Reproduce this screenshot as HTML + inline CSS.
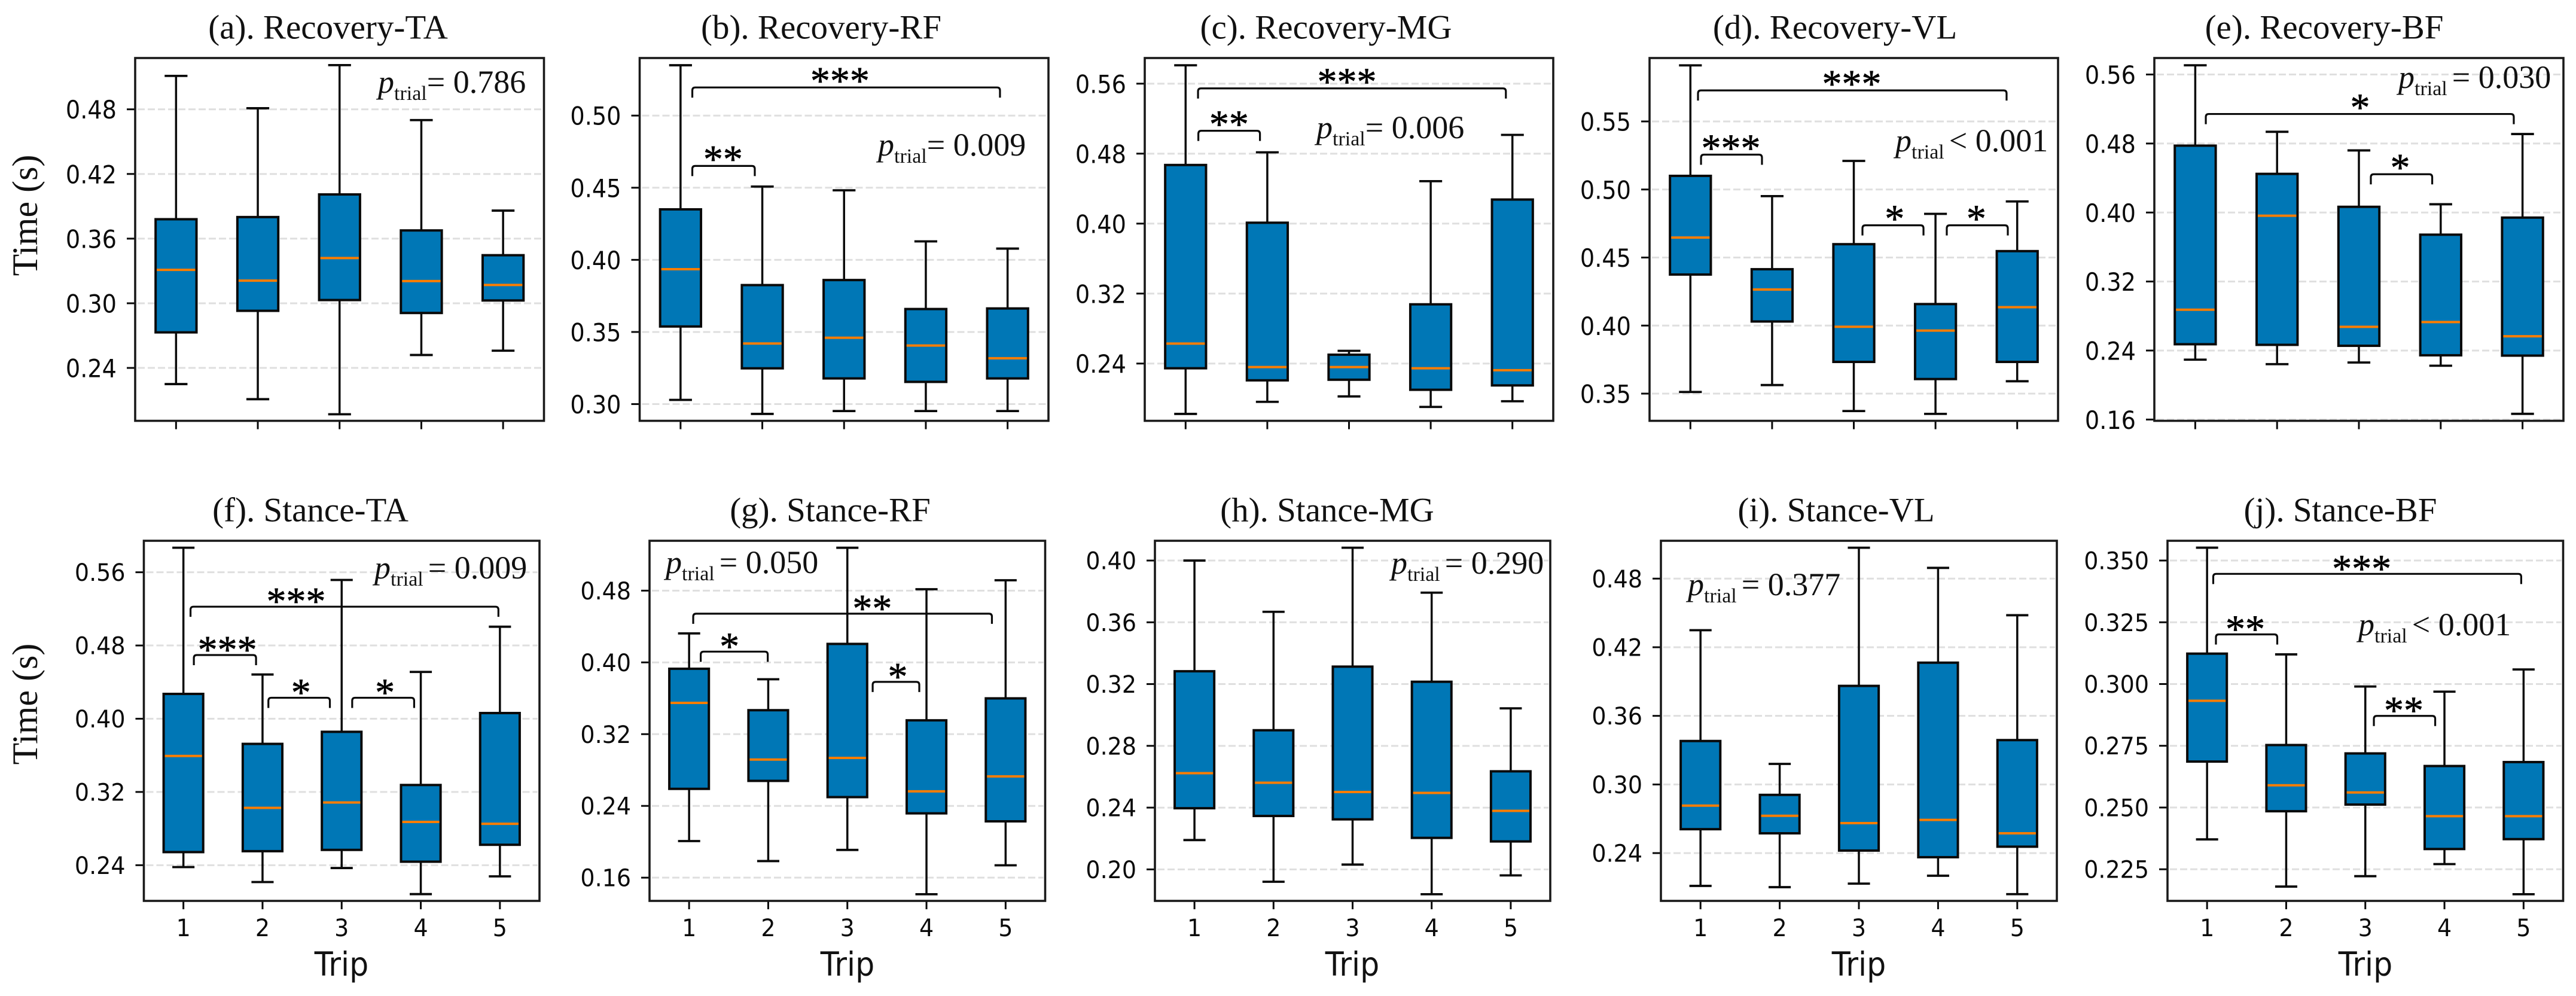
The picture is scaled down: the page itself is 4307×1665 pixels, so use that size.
<!DOCTYPE html>
<html lang="en">
<head>
<meta charset="utf-8">
<title>Recovery and stance time box plots</title>
<style>
html,body{margin:0;padding:0;background:#fff;}
svg{display:block;}
.title{font-family:"Liberation Serif",serif;font-size:57px;text-anchor:middle;fill:#111;}
.ylab{font-family:"Liberation Serif",serif;font-size:60px;text-anchor:middle;fill:#111;}
.xlab{font-family:"DejaVu Sans",sans-serif;font-size:55px;text-anchor:middle;fill:#111;}
.pval{font-family:"Liberation Serif",serif;font-size:54px;fill:#111;}
.sub{font-size:34px;}
</style>
</head>
<body>
<svg id="fig" xmlns="http://www.w3.org/2000/svg" width="4307" height="1665" viewBox="0 0 4307 1665">
<rect width="4307" height="1665" fill="#fff"/>

<g><g id="marks-a"></g>
<text class="title" x="548.5" y="64.6">(a). Recovery-TA</text>
<text class="ylab" transform="translate(62,360) rotate(-90)">Time (s)</text>
<text class="pval" x="632" y="155"><tspan font-style="italic">p</tspan><tspan class="sub" dy="12">trial</tspan><tspan dy="-12">= 0.786</tspan></text></g>

<g><g id="marks-b"></g>
<text class="title" x="1373" y="64.6">(b). Recovery-RF</text>
<text class="pval" x="1468" y="260"><tspan font-style="italic">p</tspan><tspan class="sub" dy="12">trial</tspan><tspan dy="-12">= 0.009</tspan></text></g>

<g><g id="marks-c"></g>
<text class="title" x="2217" y="64.6">(c). Recovery-MG</text>
<text class="pval" x="2201" y="231"><tspan font-style="italic">p</tspan><tspan class="sub" dy="12">trial</tspan><tspan dy="-12">= 0.006</tspan></text></g>

<g><g id="marks-d"></g>
<text class="title" x="3068" y="64.6">(d). Recovery-VL</text>
<text class="pval" x="3169" y="253"><tspan font-style="italic">p</tspan><tspan class="sub" dy="12">trial</tspan><tspan dx="8" dy="-12">&lt; 0.001</tspan></text></g>

<g><g id="marks-e"></g>
<text class="title" x="3886" y="64.6">(e). Recovery-BF</text>
<text class="pval" x="4010" y="147"><tspan font-style="italic">p</tspan><tspan class="sub" dy="12">trial</tspan><tspan dx="8" dy="-12">= 0.030</tspan></text></g>

<g><g id="marks-f"></g>
<text class="title" x="519" y="871.5">(f). Stance-TA</text>
<text class="ylab" transform="translate(62,1177) rotate(-90)">Time (s)</text>
<text class="xlab" transform="translate(571,1631) scale(.92,1)">Trip</text>
<text class="pval" x="626" y="967"><tspan font-style="italic">p</tspan><tspan class="sub" dy="12">trial</tspan><tspan dx="8" dy="-12">= 0.009</tspan></text></g>

<g><g id="marks-g"></g>
<text class="title" x="1388" y="871.5">(g). Stance-RF</text>
<text class="xlab" transform="translate(1417,1631) scale(.92,1)">Trip</text>
<text class="pval" x="1113" y="958"><tspan font-style="italic">p</tspan><tspan class="sub" dy="12">trial</tspan><tspan dx="8" dy="-12">= 0.050</tspan></text></g>

<g><g id="marks-h"></g>
<text class="title" x="2219" y="871.5">(h). Stance-MG</text>
<text class="xlab" transform="translate(2261,1631) scale(.92,1)">Trip</text>
<text class="pval" x="2326" y="959"><tspan font-style="italic">p</tspan><tspan class="sub" dy="12">trial</tspan><tspan dx="8" dy="-12">= 0.290</tspan></text></g>

<g><g id="marks-i"></g>
<text class="title" x="3070" y="871.5">(i). Stance-VL</text>
<text class="xlab" transform="translate(3108,1631) scale(.92,1)">Trip</text>
<text class="pval" x="2822" y="995"><tspan font-style="italic">p</tspan><tspan class="sub" dy="12">trial</tspan><tspan dx="8" dy="-12">= 0.377</tspan></text></g>

<g><g id="marks-j"></g>
<text class="title" x="3913" y="871.5">(j). Stance-BF</text>
<text class="xlab" transform="translate(3955,1631) scale(.92,1)">Trip</text>
<text class="pval" x="3943" y="1062"><tspan font-style="italic">p</tspan><tspan class="sub" dy="12">trial</tspan><tspan dx="8" dy="-12">&lt; 0.001</tspan></text></g>
</svg>

<script>
const tripLabels = ['1','2','3','4','5'];

// Panel a: Recovery-TA
const aHigh = [0.511,0.481,0.521,0.470,0.386];
const aQ3   = [0.378,0.380,0.401,0.3676,0.3446];
const aMed  = [0.331,0.321,0.342,0.3206,0.317];
const aQ1   = [0.273,0.293,0.303,0.291,0.3026];
const aLow  = [0.225,0.211,0.197,0.252,0.256];
const aTicks = ['0.24','0.30','0.36','0.42','0.48'];
const aRange = [0.1909,0.5276];
const aBrackets = [];

// Panel b: Recovery-RF
const bHigh = [0.5349,0.4508,0.4482,0.4128,0.4078];
const bQ3   = [0.435,0.3825,0.386,0.3659,0.3663];
const bMed  = [0.3935,0.342,0.346,0.3406,0.3318];
const bQ1   = [0.3538,0.3248,0.3178,0.3154,0.3178];
const bLow  = [0.3029,0.2932,0.2952,0.2952,0.2952];
const bTicks = ['0.30','0.35','0.40','0.45','0.50'];
const bRange = [0.2884,0.5399];
const bBrackets = [[1.144,4.907,0.5195,2.95,'***'],[1.144,1.908,0.4651,1.52,'**']];

// Panel c: Recovery-MG
const cHigh = [0.581,0.4815,0.2545,0.4485,0.5014];
const cQ3   = [0.467,0.401,0.2501,0.3077,0.4275];
const cMed  = [0.2628,0.236,0.236,0.2346,0.2324];
const cQ1   = [0.2346,0.2208,0.2215,0.21,0.215];
const cLow  = [0.1824,0.1962,0.2024,0.1904,0.1969];
const cTicks = ['0.24','0.32','0.40','0.48','0.56'];
const cRange = [0.1745,0.5893];
const cBrackets = [[1.152,4.92,0.5546,2.974,'***'],[1.156,1.91,0.5061,1.531,'**']];

// Panel d: Recovery-VL
const dHigh = [0.5912,0.4951,0.521,0.4821,0.4912];
const dQ3   = [0.51,0.4414,0.4598,0.4158,0.4547];
const dMed  = [0.4647,0.4265,0.3991,0.3963,0.4135];
const dQ1   = [0.4375,0.403,0.3733,0.3607,0.3733];
const dLow  = [0.3512,0.3563,0.3372,0.3351,0.3591];
const dTicks = ['0.35','0.40','0.45','0.50','0.55'];
const dRange = [0.33,0.5966];
const dBrackets = [[1.093,4.87,0.5728,2.974,'***'],[1.13,1.876,0.5256,1.496,'***'],[3.106,3.853,0.4737,3.5,'*'],[4.138,4.885,0.4737,4.5,'*']];

// Panel e: Recovery-BF
const eHigh = [0.5707,0.4936,0.472,0.4096,0.491];
const eQ3   = [0.4775,0.4448,0.4066,0.3743,0.3941];
const eMed  = [0.2873,0.3963,0.2675,0.273,0.2565];
const eQ1   = [0.2473,0.2466,0.2455,0.2345,0.2341];
const eLow  = [0.2294,0.2242,0.2261,0.2224,0.1666];
const eTicks = ['0.16','0.24','0.32','0.40','0.48','0.56'];
const eRange = [0.1585,0.5791];
const eBrackets = [[1.129,4.893,0.5142,3.015,'*'],[3.146,3.896,0.4444,3.504,'*']];

// Panel f: Stance-TA
const fHigh = [0.5868,0.4483,0.5516,0.4511,0.5005];
const fQ3   = [0.4271,0.3725,0.3857,0.3276,0.4062];
const fMed  = [0.3593,0.3026,0.3085,0.2873,0.2852];
const fQ1   = [0.2543,0.2553,0.2567,0.2438,0.2623];
const fLow  = [0.2379,0.2216,0.2369,0.2084,0.2278];
const fTicks = ['0.24','0.32','0.40','0.48','0.56'];
const fRange = [0.2010,0.5944];
const fBrackets = [[1.09,4.981,0.5224,2.424,'***'],[1.132,1.918,0.4696,1.555,'***'],[2.074,2.851,0.4229,2.486,'*'],[3.133,3.916,0.4229,3.547,'*']];

// Panel g: Stance-RF
const gHigh = [0.4323,0.3812,0.5278,0.4816,0.4916];
const gQ3   = [0.3929,0.3467,0.4206,0.3354,0.3599];
const gMed  = [0.3549,0.2917,0.2935,0.2562,0.2729];
const gQ1   = [0.259,0.2679,0.2498,0.2317,0.2228];
const gLow  = [0.2008,0.1785,0.1909,0.1415,0.1738];
const gTicks = ['0.16','0.24','0.32','0.40','0.48'];
const gRange = [0.1341,0.5356];
const gBrackets = [[1.052,4.827,0.4543,3.315,'**'],[1.147,1.994,0.412,1.51,'*'],[3.32,3.909,0.3783,3.637,'*']];

// Panel h: Stance-MG
const hHigh = [0.40,0.3668,0.4083,0.3792,0.3043];
const hQ3   = [0.3283,0.2901,0.3313,0.3215,0.2635];
const hMed  = [0.2623,0.2561,0.2501,0.2495,0.2379];
const hQ1   = [0.2396,0.2346,0.2324,0.2204,0.2181];
const hLow  = [0.219,0.192,0.2031,0.1839,0.1961];
const hTicks = ['0.20','0.24','0.28','0.32','0.36','0.40'];
const hRange = [0.1796,0.4128];
const hBrackets = [];

// Panel i: Stance-VL
const iHigh = [0.4349,0.318,0.507,0.4894,0.448];
const iQ3   = [0.338,0.2909,0.3862,0.4065,0.3388];
const iMed  = [0.2815,0.2726,0.2662,0.269,0.2573];
const iQ1   = [0.2609,0.2573,0.2422,0.2364,0.2456];
const iLow  = [0.2113,0.2102,0.2133,0.2202,0.2041];
const iTicks = ['0.24','0.30','0.36','0.42','0.48'];
const iRange = [0.1982,0.5131];
const iBrackets = [];

// Panel j: Stance-BF
const jHigh = [0.3552,0.312,0.299,0.2969,0.3059];
const jQ3   = [0.3123,0.2753,0.2719,0.2668,0.2684];
const jMed  = [0.2932,0.259,0.2561,0.2465,0.2465];
const jQ1   = [0.2686,0.2485,0.2512,0.2332,0.2372];
const jLow  = [0.2371,0.218,0.2222,0.2271,0.2149];
const jTicks = ['0.225','0.250','0.275','0.300','0.325','0.350'];
const jRange = [0.2122,0.358];
const jBrackets = [[1.078,4.97,0.3446,2.954,'***'],[1.112,1.887,0.3201,1.483,'**'],[3.108,3.883,0.2871,3.486,'**']];

const SVGNS = 'http://www.w3.org/2000/svg';
const INK = '#0a0a0a';

function mk(tag, attrs, parent) {
  const el = document.createElementNS(SVGNS, tag);
  for (const k in attrs) el.setAttribute(k, attrs[k]);
  parent.appendChild(el);
  return el;
}

function drawPanel(p) {
  const root = document.getElementById('marks-' + p.id);
  const [L, T, R, B] = p.frame;
  const unit = (R - L) / 5;
  const xScale = t => L + (t - 0.5) * unit;
  const yScale = v => B - (v - p.range[0]) / (p.range[1] - p.range[0]) * (B - T);
  const tf = p.lower ? 40 : 42;
  const tsx = p.lower ? 0.95 : 0.91;
  const tdy = p.lower ? 14.5 : 15.5;

  // horizontal grid and y ticks
  p.ticks.forEach(label => {
    const y = yScale(parseFloat(label));
    const grid = mk('line', {x1: L + 4, x2: R - 3, y1: y, y2: y, stroke: '#dfdfdf', 'stroke-width': 3, 'stroke-dasharray': '12 5'}, root);
    
    
    const tick = mk('line', {x1: L - 14, x2: L, y1: y, y2: y, stroke: INK, 'stroke-width': 3}, root);
    
    
    const txt = mk('text', {transform: `translate(${L - 31},${y + tdy}) scale(${tsx},1)`, 'text-anchor': 'end', 'font-family': '"DejaVu Sans",sans-serif', 'font-size': tf, fill: INK}, root);
    txt.textContent = label;
    
    
  });

  // x ticks
  tripLabels.forEach(label => {
    const x = xScale(parseFloat(label));
    const tick = mk('line', {x1: x, x2: x, y1: B, y2: B + 14, stroke: INK, 'stroke-width': 3}, root);
    
    
    if (p.lower) {
      const txt = mk('text', {transform: `translate(${x},${B + 59}) scale(0.95,1)`, 'text-anchor': 'middle', 'font-family': '"DejaVu Sans",sans-serif', 'font-size': 40, fill: INK}, root);
      txt.textContent = label;
      
      
    }
  });

  // boxes
  tripLabels.forEach((label, i) => {
    const t = parseFloat(label);
    const x = xScale(t);
    const capW = 0.25 * unit + 4;
    const boxW = 0.5 * unit;
    const whisker = mk('line', {x1: x, x2: x, y1: yScale(p.high[i]), y2: yScale(p.low[i]), stroke: INK, 'stroke-width': 3.5}, root);
    
    
    const capHigh = mk('line', {x1: x - capW / 2, x2: x + capW / 2, y1: yScale(p.high[i]), y2: yScale(p.high[i]), stroke: INK, 'stroke-width': 3.8}, root);
    
    
    const capLow = mk('line', {x1: x - capW / 2, x2: x + capW / 2, y1: yScale(p.low[i]), y2: yScale(p.low[i]), stroke: INK, 'stroke-width': 3.8}, root);
    
    
    const box = mk('rect', {x: x - boxW / 2, y: yScale(p.q3[i]), width: boxW, height: yScale(p.q1[i]) - yScale(p.q3[i]), fill: '#0077b6', stroke: INK, 'stroke-width': 4}, root);
    
    
    const med = mk('line', {x1: x - boxW / 2 + 2, x2: x + boxW / 2 - 2, y1: yScale(p.med[i]), y2: yScale(p.med[i]), stroke: '#fb7d00', 'stroke-width': 4}, root);
    
    
  });

  // significance brackets
  p.brackets.forEach(b => {
    const x1 = xScale(b[0]), x2 = xScale(b[1]), y = yScale(b[2]);
    const br = mk('path', {d: `M${x1} ${y + 17}L${x1} ${y + 5}Q${x1} ${y} ${x1 + 5} ${y}L${x2 - 5} ${y}Q${x2} ${y} ${x2} ${y + 5}L${x2} ${y + 17}`, fill: 'none', stroke: INK, 'stroke-width': 3.2}, root);
    
    
    const st = mk('text', {x: xScale(b[3]), y: y + (p.lower ? 13 : 10.8), 'text-anchor': 'middle', 'font-family': '"Liberation Serif",serif', 'font-size': 66, fill: '#000', stroke: '#000', 'stroke-width': 0.7}, root);
    st.textContent = b[4];
    
    
  });

  // axes frame
  const frame = mk('rect', {x: L, y: T, width: R - L, height: B - T, fill: 'none', stroke: '#1a1a1a', 'stroke-width': 3.6}, root);
  
  
}

const panels = [
  {id:'a', frame:[226,97,909.5,703.5], high:aHigh, q3:aQ3, med:aMed, q1:aQ1, low:aLow, ticks:aTicks, range:aRange, brackets:aBrackets},
  {id:'b', frame:[1069.5,97,1753,703.5], high:bHigh, q3:bQ3, med:bMed, q1:bQ1, low:bLow, ticks:bTicks, range:bRange, brackets:bBrackets},
  {id:'c', frame:[1914,97,2597,703.5], high:cHigh, q3:cQ3, med:cMed, q1:cQ1, low:cLow, ticks:cTicks, range:cRange, brackets:cBrackets},
  {id:'d', frame:[2758,97,3441,703.5], high:dHigh, q3:dQ3, med:dMed, q1:dQ1, low:dLow, ticks:dTicks, range:dRange, brackets:dBrackets},
  {id:'e', frame:[3602,97,4286,703.5], high:eHigh, q3:eQ3, med:eMed, q1:eQ1, low:eLow, ticks:eTicks, range:eRange, brackets:eBrackets},
  {id:'f', lower:true, frame:[240.5,904,902,1506], high:fHigh, q3:fQ3, med:fMed, q1:fQ1, low:fLow, ticks:fTicks, range:fRange, brackets:fBrackets},
  {id:'g', lower:true, frame:[1086,904,1747.5,1506], high:gHigh, q3:gQ3, med:gMed, q1:gQ1, low:gLow, ticks:gTicks, range:gRange, brackets:gBrackets},
  {id:'h', lower:true, frame:[1931,904,2592,1506], high:hHigh, q3:hQ3, med:hMed, q1:hQ1, low:hLow, ticks:hTicks, range:hRange, brackets:hBrackets},
  {id:'i', lower:true, frame:[2777,904,3439,1506], high:iHigh, q3:iQ3, med:iMed, q1:iQ1, low:iLow, ticks:iTicks, range:iRange, brackets:iBrackets},
  {id:'j', lower:true, frame:[3624,904,4285.5,1506], high:jHigh, q3:jQ3, med:jMed, q1:jQ1, low:jLow, ticks:jTicks, range:jRange, brackets:jBrackets}
];

panels.forEach(drawPanel);
</script>
</body>
</html>
